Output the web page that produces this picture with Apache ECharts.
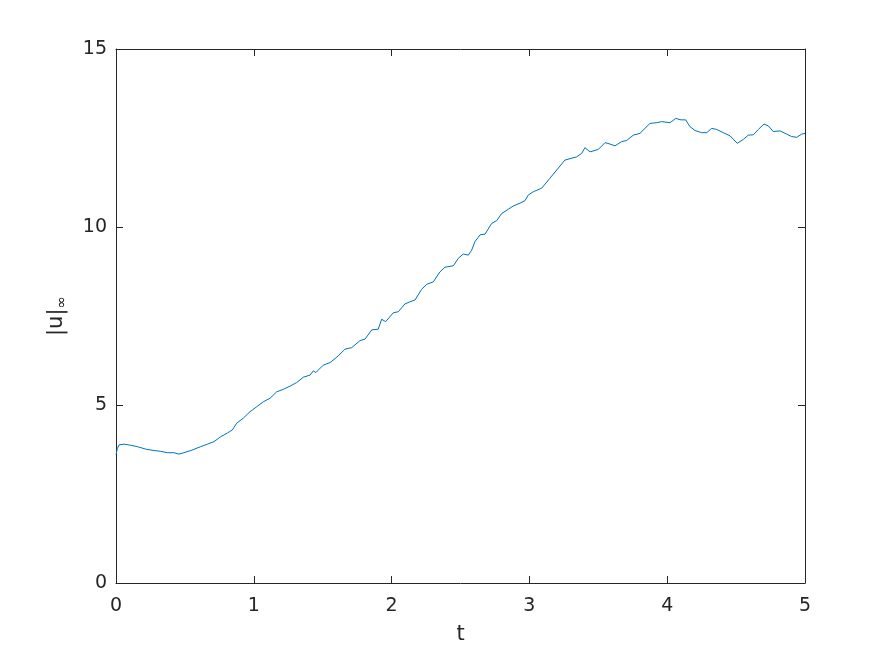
<!DOCTYPE html>
<html>
<head>
<meta charset="utf-8">
<script src="https://cdn.jsdelivr.net/npm/echarts@6/dist/echarts.min.js"></script>
<style>
html,body{margin:0;padding:0;background:#fff;}
#chart{width:891px;height:656px;}
</style>
</head>
<body>
<div id="chart"></div>
<script>
const tVals = [0,0.010,0.022,0.058,0.107,0.155,0.216,0.276,0.324,0.372,0.421,0.457,0.493,0.542,0.615,0.663,0.711,0.760,0.808,0.844,0.876,0.924,0.972,1.021,1.069,1.118,1.142,1.166,1.214,1.263,1.311,1.359,1.408,1.432,1.451,1.468,1.504,1.553,1.613,1.662,1.710,1.771,1.807,1.856,1.903,1.928,1.957,2.012,2.049,2.097,2.134,2.170,2.218,2.255,2.303,2.351,2.387,2.448,2.484,2.520,2.557,2.581,2.605,2.642,2.678,2.726,2.763,2.799,2.847,2.883,2.932,2.968,2.992,3.028,3.089,3.149,3.198,3.258,3.343,3.380,3.403,3.440,3.500,3.549,3.585,3.621,3.670,3.706,3.754,3.802,3.875,3.924,3.960,4.020,4.062,4.100,4.134,4.165,4.202,4.250,4.287,4.323,4.359,4.407,4.456,4.509,4.552,4.588,4.625,4.661,4.702,4.734,4.770,4.819,4.867,4.903,4.940,4.976,5.000];
const uVals = [3.60,3.78,3.88,3.90,3.87,3.83,3.76,3.72,3.70,3.66,3.66,3.62,3.66,3.72,3.83,3.90,3.97,4.11,4.21,4.30,4.49,4.63,4.81,4.95,5.09,5.19,5.28,5.37,5.44,5.53,5.63,5.78,5.84,5.96,5.91,5.98,6.12,6.19,6.38,6.57,6.61,6.81,6.85,7.11,7.13,7.41,7.34,7.59,7.62,7.84,7.90,7.95,8.25,8.39,8.46,8.74,8.87,8.91,9.12,9.24,9.21,9.35,9.59,9.78,9.80,10.10,10.18,10.38,10.50,10.59,10.67,10.74,10.90,10.99,11.09,11.37,11.60,11.88,11.97,12.07,12.23,12.11,12.18,12.37,12.33,12.28,12.40,12.43,12.58,12.63,12.91,12.93,12.96,12.93,13.05,13.01,13.01,12.82,12.71,12.65,12.65,12.77,12.74,12.65,12.56,12.35,12.46,12.58,12.59,12.74,12.89,12.84,12.68,12.70,12.61,12.54,12.52,12.61,12.63];
const xTicks = [0,1,2,3,4,5];
const yTicks = [0,5,10,15];

const FONT = 'DejaVu Sans';
const AX = '#262626';
const chart = echarts.init(document.getElementById('chart'), null, {renderer:'canvas'});
const axLine = {show:true, onZero:false, lineStyle:{color:AX, width:1}};
const tick = {show:true, inside:true, length:7, lineStyle:{color:AX, width:1}};
const baseX = {type:'value', min:xTicks[0], max:xTicks[xTicks.length-1], interval:1, splitLine:{show:false}, axisLine:axLine, axisTick:tick};
const baseY = {type:'value', min:yTicks[0], max:yTicks[yTicks.length-1], interval:5, splitLine:{show:false}, axisLine:axLine, axisTick:tick};
chart.setOption({
  animation:false,
  backgroundColor:'#fff',
  grid:{left:116, right:86, top:49, bottom:73, containLabel:false},
  xAxis:[
    Object.assign({}, baseX, {position:'bottom',
      axisLabel:{show:true, color:AX, fontFamily:FONT, fontSize:19, margin:14},
      name:'t', nameLocation:'middle', nameGap:41,
      nameTextStyle:{color:AX, fontFamily:FONT, fontSize:21}}),
    Object.assign({}, baseX, {position:'top', axisLabel:{show:false}})
  ],
  yAxis:[
    Object.assign({}, baseY, {position:'left',
      axisLabel:{show:true, color:AX, fontFamily:FONT, fontSize:19, margin:9},
      name:'{a||u|}{b|∞}', nameLocation:'middle', nameGap:46, nameRotate:90,
      nameTextStyle:{color:AX, fontFamily:FONT, fontSize:21,
        rich:{a:{fontFamily:FONT, fontSize:21, color:AX}, b:{fontFamily:FONT, fontSize:15, color:AX, verticalAlign:'bottom', padding:[12,0,0,0]}}}}),
    Object.assign({}, baseY, {position:'right', axisLabel:{show:false}})
  ],
  series:[{
    type:'line', xAxisIndex:0, yAxisIndex:0,
    data: tVals.map((t,i)=>[t,uVals[i]]),
    showSymbol:false, symbol:'none',
    lineStyle:{color:'#0072BD', width:1},
    smooth:false
  }]
});
</script>
</body>
</html>
